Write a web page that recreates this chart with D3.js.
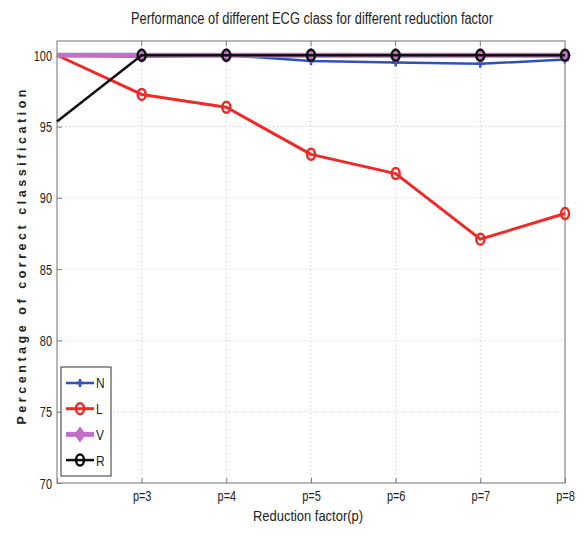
<!DOCTYPE html>
<html><head><meta charset="utf-8">
<script src="https://cdn.jsdelivr.net/npm/d3@7/dist/d3.min.js"></script>
<style>body{margin:0;background:#fff;} text{font-family:"Liberation Sans",Arial,sans-serif;}</style>
</head><body><svg id="c" width="585" height="537"></svg>
<script>
const pValues = [2,3,4,5,6,7,8];
const xTickLabels = ["","p=3","p=4","p=5","p=6","p=7","p=8"];
const yTicks = [70,75,80,85,90,95,100];
const seriesNames = ["N","L","V","R"];
const seriesN = [100,99.9,100,99.6,99.5,99.4,99.7];
const seriesL = [100,97.25,96.35,93.05,91.7,87.1,88.9];
const seriesV = [100,100,100,100,100,100,100];
const seriesR = [95.35,100,100,100,100,100,100];

const svg = d3.select("#c");
const L=57,R=565,T=41,B=483;
const x = d3.scaleLinear().domain([2,8]).range([L,R]);
const y = d3.scaleLinear().domain([70,101]).range([B,T]);
function squeeze(sel,f){ sel.each(function(){ const w=this.getComputedTextLength(); d3.select(this).attr("textLength",w*f).attr("lengthAdjust","spacingAndGlyphs"); }); }

// grid
const g = svg.append("g");
g.selectAll(".gx").data(pValues.slice(1,-1)).join("line")
 .attr("x1",d=>x(d)).attr("x2",d=>x(d)).attr("y1",T).attr("y2",B)
 .attr("stroke","#c8c8c8").attr("stroke-width",1).attr("stroke-dasharray","1,3");
g.selectAll(".gy").data(yTicks.slice(1)).join("line")
 .attr("y1",d=>y(d)).attr("y2",d=>y(d)).attr("x1",L).attr("x2",R)
 .attr("stroke","#c8c8c8").attr("stroke-width",1).attr("stroke-dasharray","1,3");

// axes
const xAxis = d3.axisBottom(x).tickValues(pValues).tickFormat((d,i)=>xTickLabels[i]).tickSizeInner(-5).tickSizeOuter(0).tickPadding(8);
const gx = svg.append("g").attr("transform",`translate(0,${B})`).call(xAxis);
const yAxis = d3.axisLeft(y).tickValues(yTicks).tickSizeInner(-5).tickSizeOuter(0).tickPadding(5);
const gy = svg.append("g").attr("transform",`translate(${L},0)`).call(yAxis);
[gx,gy].forEach(a=>{a.select(".domain").remove();a.selectAll("line").attr("stroke","#777");
 a.selectAll("text").attr("font-size",14).attr("fill","#222").style("font-family",'"Liberation Sans",sans-serif');});
gy.selectAll("text").attr("dy","0.36em");
squeeze(gx.selectAll("text"),0.78);
squeeze(gy.selectAll("text"),0.78);
// box
svg.append("rect").attr("x",L).attr("y",T).attr("width",R-L).attr("height",B-T)
 .attr("fill","none").attr("stroke","#888").attr("stroke-width",1.2);
// top ticks
svg.selectAll(".tt").data(pValues.slice(1,-1)).join("line").attr("x1",d=>x(d)).attr("x2",d=>x(d)).attr("y1",T).attr("y2",T+5).attr("stroke","#777");

const series = [
 {name:"N",vals:seriesN,color:"#3050c0",w:2.5,marker:"star"},
 {name:"L",vals:seriesL,color:"#f02828",w:3,marker:"circle"},
 {name:"V",vals:seriesV,color:"#c070c8",w:5,marker:"diamond"},
 {name:"R",vals:seriesR,color:"#111",w:2.5,marker:"circle"}
];
const line = d3.line().x((d,i)=>x(pValues[i])).y(d=>y(d));
const plot = svg.append("g");
function drawMarker(sel,s,cx,cy){
 if(s.marker==="circle"){
  sel.append("ellipse").attr("cx",cx).attr("cy",cy).attr("rx",4).attr("ry",5.5).attr("fill","none").attr("stroke",s.color).attr("stroke-width",2.5);
 } else if(s.marker==="diamond"){
  sel.append("path").attr("d",`M${cx},${cy-8}L${cx+6},${cy}L${cx},${cy+8}L${cx-6},${cy}Z`).attr("fill",s.color);
 } else {
  sel.append("path").attr("d",`M${cx-4},${cy}L${cx+4},${cy}M${cx},${cy-4}L${cx},${cy+4}`).attr("stroke",s.color).attr("stroke-width",2.5);
 }
}
series.forEach(s=>{
 const gg = plot.append("g");
 gg.append("path").datum(s.vals).attr("d",line).attr("fill","none").attr("stroke",s.color).attr("stroke-width",s.w).attr("stroke-linejoin","round");
 s.vals.forEach((v,i)=>{ if(i>0) drawMarker(gg,s,x(pValues[i]),y(v)); });
});

// legend
const lg = svg.append("g");
lg.append("rect").attr("x",61).attr("y",367).attr("width",50).attr("height",109).attr("fill","#fff").attr("stroke","#333").attr("stroke-width",1);
series.forEach((s,i)=>{
 const yy = 383 + i*25.7;
 lg.append("line").attr("x1",66).attr("x2",94).attr("y1",yy).attr("y2",yy).attr("stroke",s.color).attr("stroke-width",s.w);
 drawMarker(lg,s,80,yy);
 const t = lg.append("text").attr("x",96).attr("y",yy).attr("dy","0.36em").attr("font-size",15).attr("fill","#222").text(s.name);
 squeeze(t,0.8);
});

// titles
svg.append("text").attr("x",312).attr("y",24).attr("text-anchor","middle").attr("font-size",16).attr("fill","#222")
 .attr("textLength",362).attr("lengthAdjust","spacingAndGlyphs")
 .text("Performance of different ECG class for different reduction factor");
svg.append("text").attr("x",308).attr("y",521).attr("text-anchor","middle").attr("font-size",14).attr("fill","#222")
 .attr("textLength",110).attr("lengthAdjust","spacingAndGlyphs")
 .text("Reduction factor(p)");
svg.append("text").attr("transform","translate(26,257) rotate(-90)").attr("text-anchor","middle").attr("font-size",12.5)
 .attr("font-weight","bold").attr("fill","#222")
 .attr("textLength",335).attr("lengthAdjust","spacing")
 .text("Percentage of correct classification");
</script></body></html>
